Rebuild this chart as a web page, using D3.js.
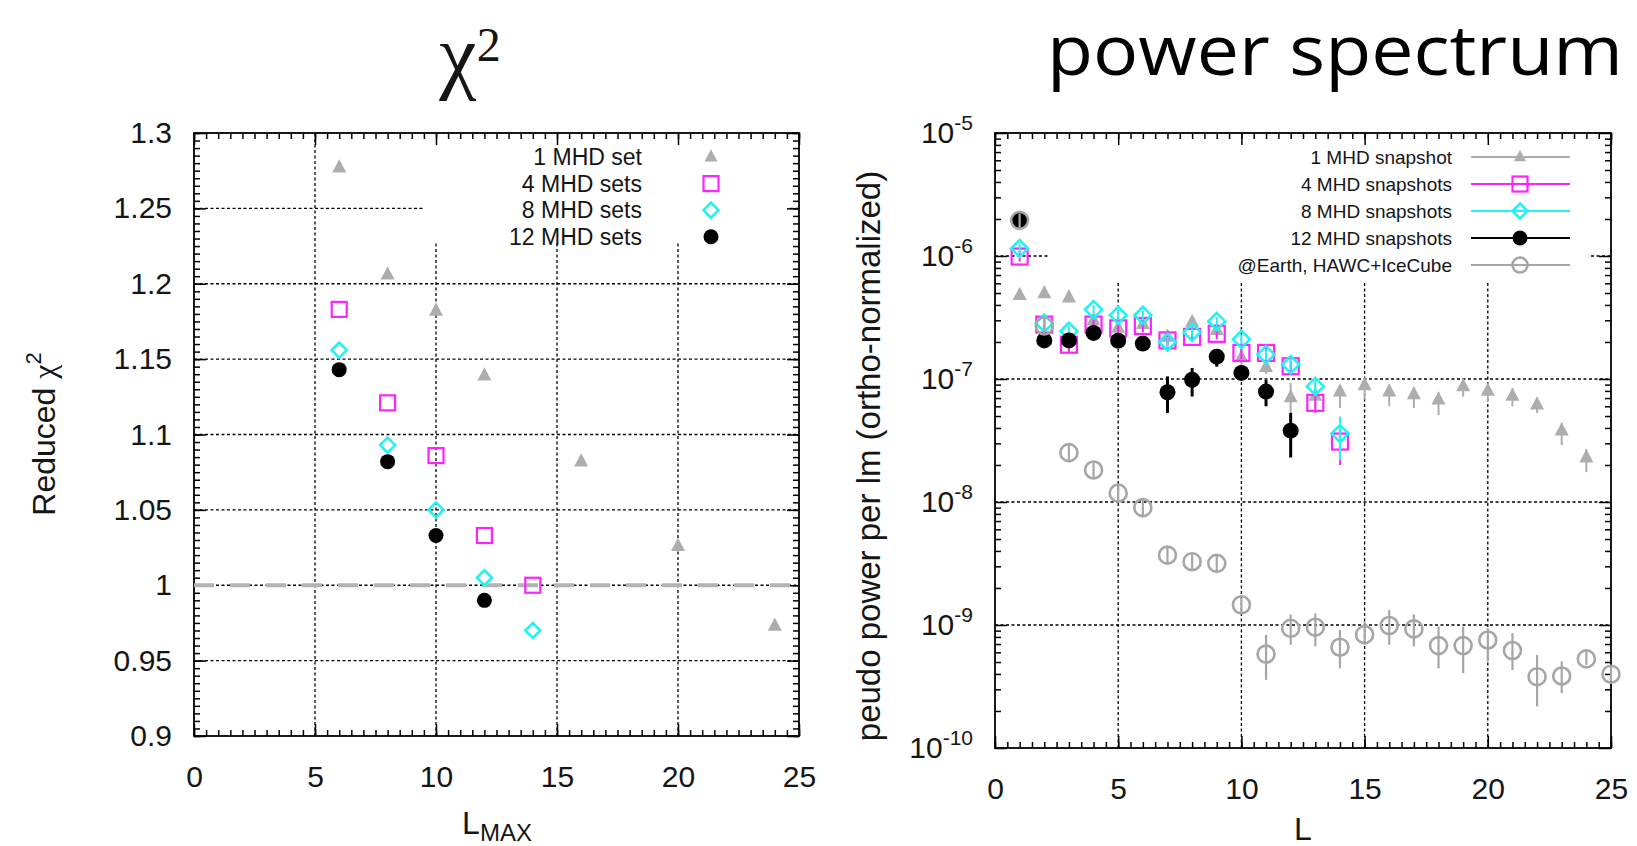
<!DOCTYPE html>
<html lang="en">
<head>
<meta charset="UTF-8">
<title>chi2 and power spectrum</title>
<script src="https://d3js.org/d3.v7.min.js"></script>
<style>
  body { margin: 0; background: #fff; }
  svg text { font-family: "Liberation Sans", Arial, sans-serif; fill: #151515; }
</style>
</head>
<body>
<svg></svg>
<script>
// ---- left panel: reduced chi^2 vs L_MAX ----
const lmax1 = [6, 8, 10, 12, 16, 20, 24];
const chi1 = [1.277, 1.206, 1.182, 1.139, 1.082, 1.026, 0.973];
const lmax4 = [6, 8, 10, 12, 14];
const chi4 = [1.183, 1.121, 1.086, 1.033, 1.0];
const lmax8 = [6, 8, 10, 12, 14];
const chi8 = [1.156, 1.093, 1.050, 1.005, 0.970];
const lmax12 = [6, 8, 10, 12];
const chi12 = [1.143, 1.082, 1.033, 0.990];
const chiTicks = [0.9, 0.95, 1, 1.05, 1.1, 1.15, 1.2, 1.25, 1.3];
const lTicks = [0, 5, 10, 15, 20, 25];

// ---- right panel: power spectrum vs L ----
const ells = d3.range(1, 26);
const snap1 = [4.8e-7, 4.97e-7, 4.6e-7, 3.0e-7, 2.6e-7, 2.8e-7, 2.2e-7, 2.9e-7, 2.5e-7, 1.5e-7, 1.25e-7, 7.1e-8,
  7.3e-8, 7.9e-8, 8.9e-8, 7.9e-8, 7.5e-8, 6.8e-8, 8.7e-8, 8.0e-8, 7.3e-8, 6.2e-8, 3.8e-8, 2.3e-8];
const snap1Lo = [4.4e-7, 4.6e-7, 4.2e-7, 2.7e-7, 2.3e-7, 2.5e-7, 1.9e-7, 2.6e-7, 2.2e-7, 1.3e-7, 1.1e-7, 5.0e-8,
  5.8e-8, 5.8e-8, 6.8e-8, 6.0e-8, 5.8e-8, 5.1e-8, 7.2e-8, 6.6e-8, 6.0e-8, 5.3e-8, 2.9e-8, 1.75e-8];
const snap1Hi = [5.2e-7, 5.4e-7, 5.0e-7, 3.3e-7, 2.9e-7, 3.1e-7, 2.5e-7, 3.2e-7, 2.8e-7, 1.7e-7, 1.4e-7, 9.3e-8,
  8.8e-8, 8.9e-8, 1.0e-7, 9.0e-8, 8.6e-8, 7.8e-8, 9.8e-8, 9.2e-8, 8.4e-8, 7.0e-8, 4.4e-8, 2.7e-8];
const snap4 = [9.9e-7, 2.77e-7, 1.9e-7, 2.77e-7, 2.58e-7, 2.7e-7, 2.06e-7, 2.2e-7, 2.33e-7, 1.63e-7, 1.63e-7, 1.27e-7, 6.4e-8, 3.1e-8];
const snap4Lo = [9.0e-7, 2.5e-7, 1.6e-7, 2.5e-7, 2.3e-7, 2.4e-7, 1.85e-7, 2.0e-7, 2.1e-7, 1.45e-7, 1.45e-7, 1.15e-7, 5.3e-8, 2.0e-8];
const snap4Hi = [1.1e-6, 3.1e-7, 2.2e-7, 3.1e-7, 2.9e-7, 3.0e-7, 2.3e-7, 2.45e-7, 2.6e-7, 1.85e-7, 1.85e-7, 1.4e-7, 7.7e-8, 4.2e-8];
const snap8 = [1.15e-6, 2.85e-7, 2.45e-7, 3.67e-7, 3.3e-7, 3.3e-7, 2.0e-7, 2.4e-7, 2.94e-7, 2.1e-7, 1.58e-7, 1.31e-7, 8.7e-8, 3.6e-8];
const snap8Lo = [1.05e-6, 2.6e-7, 2.2e-7, 3.3e-7, 3.0e-7, 3.0e-7, 1.8e-7, 2.2e-7, 2.65e-7, 1.9e-7, 1.42e-7, 1.18e-7, 7.6e-8, 2.2e-8];
const snap8Hi = [1.27e-6, 3.1e-7, 2.7e-7, 4.0e-7, 3.6e-7, 3.6e-7, 2.2e-7, 2.6e-7, 3.2e-7, 2.3e-7, 1.74e-7, 1.45e-7, 1.0e-7, 4.95e-8];
const snap12 = [1.95e-6, 2.06e-7, 2.06e-7, 2.37e-7, 2.05e-7, 1.94e-7, 7.8e-8, 9.86e-8, 1.52e-7, 1.12e-7, 7.9e-8, 3.8e-8];
const snap12Lo = [1.75e-6, 1.9e-7, 1.9e-7, 2.2e-7, 1.9e-7, 1.8e-7, 5.3e-8, 7.2e-8, 1.26e-7, 9.8e-8, 6.0e-8, 2.3e-8];
const snap12Hi = [2.15e-6, 2.25e-7, 2.25e-7, 2.55e-7, 2.2e-7, 2.1e-7, 1.05e-7, 1.23e-7, 1.67e-7, 1.23e-7, 9.8e-8, 5.3e-8];
const earth = [1.95e-6, 2.7e-7, 2.52e-8, 1.82e-8, 1.18e-8, 9.0e-9, 3.7e-9, 3.27e-9, 3.17e-9, 1.46e-9, 5.8e-10, 9.4e-10, 9.6e-10,
  6.6e-10, 8.35e-10, 9.9e-10, 9.3e-10, 6.8e-10, 6.8e-10, 7.55e-10, 6.2e-10, 3.8e-10, 3.85e-10, 5.3e-10, 3.98e-10];
const earthLo = [1.7e-6, 2.35e-7, 2.2e-8, 1.58e-8, 1.03e-8, 7.8e-9, 3.2e-9, 2.85e-9, 2.75e-9, 1.27e-9, 3.58e-10, 6.9e-10, 6.7e-10,
  4.45e-10, 6.9e-10, 6.9e-10, 6.7e-10, 4.45e-10, 4.06e-10, 5.05e-10, 4.3e-10, 2.18e-10, 2.79e-10, 4.74e-10, 3.47e-10];
const earthHi = [2.2e-6, 3.1e-7, 2.9e-8, 2.1e-8, 1.36e-8, 1.04e-8, 4.25e-9, 3.75e-9, 3.65e-9, 1.68e-9, 8.3e-10, 1.22e-9, 1.24e-9,
  9.1e-10, 1.06e-9, 1.32e-9, 1.22e-9, 9.7e-10, 9.7e-10, 9.4e-10, 8.6e-10, 5.7e-10, 5.05e-10, 6.15e-10, 4.6e-10];
const powTicks = [1e-10, 1e-9, 1e-8, 1e-7, 1e-6, 1e-5];

const gray = "#adadad", magenta = "#ff22ff", cyan = "#22f2f2", black = "#000";

const svg = d3.select("svg").attr("width", 1637).attr("height", 846);

// marker shapes
function mark(g, kind, cx, cy, s, color) {
  if (kind === "tri") {
    g.append("path").attr("d", `M${cx},${cy - s * 0.6}L${cx + s / 2},${cy + s * 0.35}L${cx - s / 2},${cy + s * 0.35}Z`)
      .attr("fill", color);
  } else if (kind === "sq") {
    g.append("rect").attr("x", cx - s / 2).attr("y", cy - s / 2).attr("width", s).attr("height", s)
      .attr("fill", "none").attr("stroke", color).attr("stroke-width", 2.2);
  } else if (kind === "dia") {
    const h = s / 2;
    g.append("path").attr("d", `M${cx},${cy - h}L${cx + h},${cy}L${cx},${cy + h}L${cx - h},${cy}Z`)
      .attr("fill", "none").attr("stroke", color).attr("stroke-width", 2.6);
  } else if (kind === "dot") {
    g.append("circle").attr("cx", cx).attr("cy", cy).attr("r", s / 2).attr("fill", color);
  } else if (kind === "ring") {
    g.append("circle").attr("cx", cx).attr("cy", cy).attr("r", s / 2)
      .attr("fill", "none").attr("stroke", color).attr("stroke-width", 2.6);
  }
}

function frame(g, x, y, xMinor, yMajor, yMinor, yFmt, box) {
  const [x0, x1] = x.range(), [y1, y0] = y.range();
  // grid
  const grid = g.append("g").attr("stroke", "#000").attr("stroke-width", 1.3).attr("stroke-dasharray", "3,2.5");
  lTicks.slice(1, -1).forEach(v => {
    const top = x(v) > box.x0 && x(v) < box.x1 ? box.y1 : y0;
    grid.append("line").attr("x1", x(v)).attr("x2", x(v)).attr("y1", y1).attr("y2", top);
  });
  yMajor.slice(1, -1).forEach(v => {
    const yy = y(v);
    if (yy > box.y1) {
      grid.append("line").attr("x1", x0).attr("x2", x1).attr("y1", yy).attr("y2", yy);
    } else {
      grid.append("line").attr("x1", x0).attr("x2", box.x0).attr("y1", yy).attr("y2", yy);
      grid.append("line").attr("x1", box.x1).attr("x2", x1).attr("y1", yy).attr("y2", yy);
    }
  });
  // ticks on all four sides
  const ax = (a, ticks, size, fmt, pad) => a.tickValues(ticks).tickSizeInner(size).tickSizeOuter(0)
    .tickPadding(pad).tickFormat(fmt);
  const put = (axis, tx, ty) => {
    const s = g.append("g").attr("transform", `translate(${tx},${ty})`).call(axis);
    s.select(".domain").remove();
    s.selectAll(".tick line").attr("stroke", "#000").attr("stroke-width", 1.5);
    s.selectAll("text").attr("fill", "#151515").style("font-size", "30px")
      .style("font-family", '"Liberation Sans", Arial, sans-serif');
    return s;
  };
  put(ax(d3.axisBottom(x), lTicks, -12, d3.format("d"), 30), 0, y1);
  put(ax(d3.axisBottom(x), xMinor, -6, () => "", 0), 0, y1);
  put(ax(d3.axisTop(x), lTicks, -12, () => "", 0), 0, y0);
  put(ax(d3.axisTop(x), xMinor, -6, () => "", 0), 0, y0);
  const yl = put(ax(d3.axisLeft(y), yMajor, -12, yFmt, 22), x0, 0);
  put(ax(d3.axisLeft(y), yMinor, -6, () => "", 0), x0, 0);
  put(ax(d3.axisRight(y), yMajor, -12, () => "", 0), x1, 0);
  put(ax(d3.axisRight(y), yMinor, -6, () => "", 0), x1, 0);
  g.append("rect").attr("x", x0).attr("y", y0).attr("width", x1 - x0).attr("height", y1 - y0)
    .attr("fill", "none").attr("stroke", "#000").attr("stroke-width", 1.8);
  return yl;
}

// ================= left panel =================
const xL = d3.scaleLinear().domain([0, 25]).range([194, 799]);
const yL = d3.scaleLinear().domain([0.9, 1.3]).range([736, 133]);
const gL = svg.append("g");
const boxL = { x0: 423, x1: 790, y1: 243 };
frame(gL, xL, yL, d3.range(0, 25.01, 0.5), chiTicks, d3.range(0.9, 1.3001, 0.005),
  d => String(+d.toFixed(2)), boxL);

// reference line at 1
gL.append("line").attr("x1", xL(0)).attr("x2", xL(25)).attr("y1", yL(1)).attr("y2", yL(1))
  .attr("stroke", "#b3b3b3").attr("stroke-width", 4).attr("stroke-dasharray", "20,16");

const ptsL = gL.append("g");
lmax1.forEach((l, i) => mark(ptsL, "tri", xL(l), yL(chi1[i]), 14, gray));
lmax4.forEach((l, i) => mark(ptsL, "sq", xL(l), yL(chi4[i]), 15, magenta));
lmax8.forEach((l, i) => mark(ptsL, "dia", xL(l), yL(chi8[i]), 15, cyan));
lmax12.forEach((l, i) => mark(ptsL, "dot", xL(l), yL(chi12[i]), 15, black));

const legL = [["1 MHD set", "tri", gray], ["4 MHD sets", "sq", magenta], ["8 MHD sets", "dia", cyan], ["12 MHD sets", "dot", black]];
legL.forEach(([t, k, c], i) => {
  const yy = 157 + i * 26.6;
  gL.append("text").attr("x", 642).attr("y", yy).attr("dy", "0.36em").attr("text-anchor", "end")
    .style("font-size", "23px").text(t);
  mark(gL, k, 711, yy, k === "tri" ? 13 : 15, c);
});

gL.append("text").attr("transform", "translate(55,434) rotate(-90)").attr("text-anchor", "middle")
  .style("font-size", "32px")
  .call(t => { t.append("tspan").text("Reduced "); t.append("tspan").style("font-family", '"Liberation Serif", serif').text("χ");
    t.append("tspan").attr("dy", -14).style("font-size", "22px").text("2"); });
gL.append("text").attr("x", 497).attr("y", 834).attr("text-anchor", "middle").style("font-size", "32px")
  .call(t => { t.append("tspan").text("L"); t.append("tspan").attr("dy", 7).style("font-size", "24px").text("MAX"); });
gL.append("text").attr("x", 470).attr("y", 83).attr("text-anchor", "middle")
  .style("font-family", '"Liberation Serif", serif').style("font-size", "84px")
  .call(t => { t.append("tspan").text("χ"); t.append("tspan").attr("dy", -22).style("font-size", "48px").text("2"); });

// ================= right panel =================
const xR = d3.scaleLinear().domain([0, 25]).range([995, 1611]);
const yR = d3.scaleLog().domain([1e-10, 1e-5]).range([748, 133]);
const gR = svg.append("g");
const boxR = { x0: 1049, x1: 1591, y1: 281 };
const logMinor = [];
powTicks.slice(0, -1).forEach(p => d3.range(2, 10).forEach(m => logMinor.push(p * m)));
const yAxR = frame(gR, xR, yR, d3.range(0, 25.01, 0.5), powTicks, logMinor, () => "", boxR);
yAxR.selectAll(".tick text").each(function (d) {
  const e = Math.round(Math.log10(d));
  const t = d3.select(this).text(null);
  t.append("tspan").text("10");
  t.append("tspan").attr("dy", -13).style("font-size", "21px").text("-" + Math.abs(e));
});

const series = [
  { v: snap1, lo: snap1Lo, hi: snap1Hi, kind: "tri", s: 14, c: gray, w: 2 },
  { v: snap4, lo: snap4Lo, hi: snap4Hi, kind: "sq", s: 16, c: magenta, w: 2 },
  { v: snap8, lo: snap8Lo, hi: snap8Hi, kind: "dia", s: 17, c: cyan, w: 2 },
  { v: snap12, lo: snap12Lo, hi: snap12Hi, kind: "dot", s: 16, c: black, w: 3 },
  { v: earth, lo: earthLo, hi: earthHi, kind: "ring", s: 17, c: "#a6a6a6", w: 2.2 }
];
const ptsR = gR.append("g");
series.forEach(se => {
  const g = ptsR.append("g");
  se.v.forEach((v, i) => {
    const cx = xR(ells[i]);
    g.append("line").attr("x1", cx).attr("x2", cx).attr("y1", yR(se.lo[i])).attr("y2", yR(se.hi[i]))
      .attr("stroke", se.c).attr("stroke-width", se.w);
    mark(g, se.kind, cx, yR(v), se.s, se.c);
  });
});

const legR = ["1 MHD snapshot", "4 MHD snapshots", "8 MHD snapshots", "12 MHD snapshots", "@Earth, HAWC+IceCube"];
legR.forEach((t, i) => {
  const yy = 157 + i * 27;
  const se = series[i];
  gR.append("text").attr("x", 1452).attr("y", yy).attr("dy", "0.36em").attr("text-anchor", "end")
    .style("font-size", "19px").text(t);
  gR.append("line").attr("x1", 1471).attr("x2", 1570).attr("y1", yy).attr("y2", yy)
    .attr("stroke", se.c).attr("stroke-width", 2);
  mark(gR, se.kind, 1520, yy, se.kind === "tri" ? 12 : 15, se.c);
});

gR.append("text").attr("transform", "translate(880,456) rotate(-90)").attr("text-anchor", "middle")
  .style("font-size", "33px").text("peudo power per lm (ortho-normalized)");
gR.append("text").attr("x", 1303).attr("y", 840).attr("text-anchor", "middle").style("font-size", "32px").text("L");
gR.append("text").attr("x", 1047).attr("y", 75).attr("textLength", 576).attr("lengthAdjust", "spacingAndGlyphs")
  .style("font-family", '"Open Sans", sans-serif').style("font-size", "70px").style("fill", "#000")
  .text("power spectrum");
</script>
</body>
</html>
